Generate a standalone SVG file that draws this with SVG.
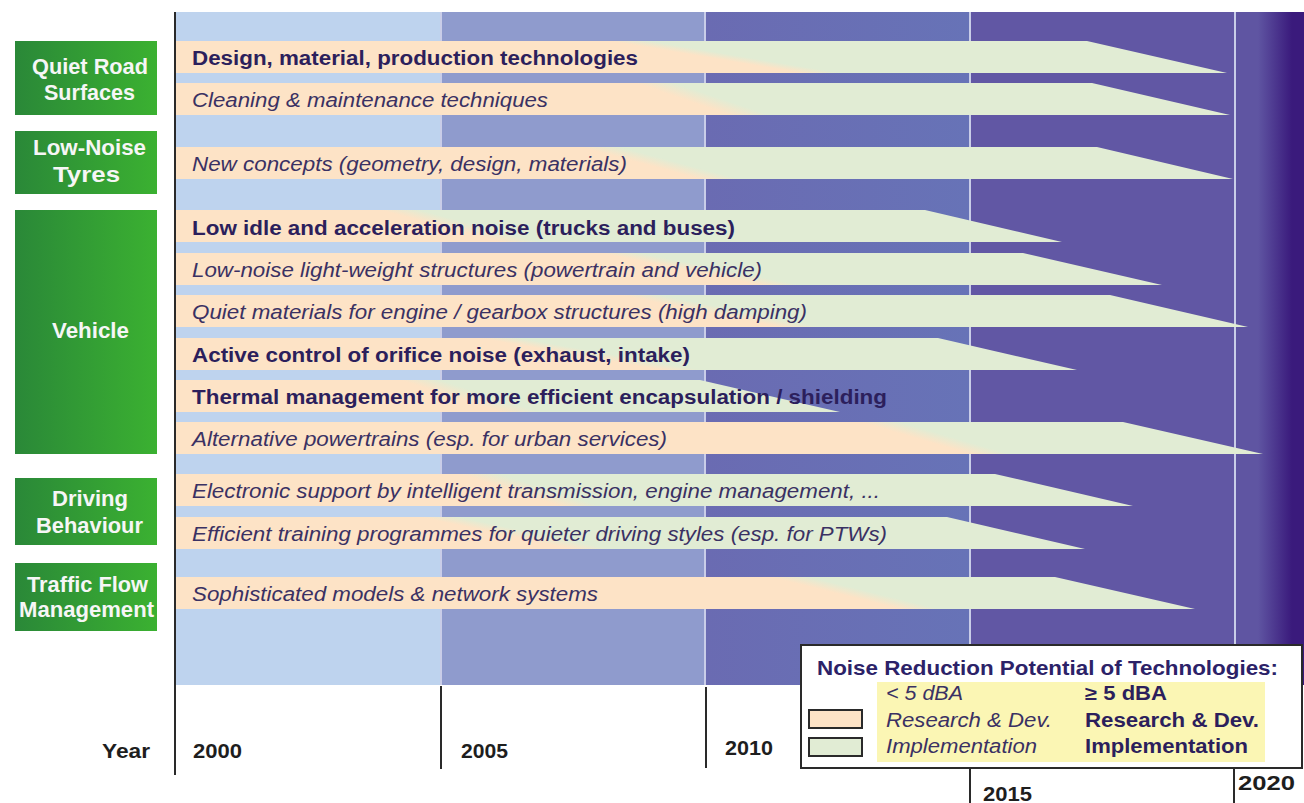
<svg xmlns="http://www.w3.org/2000/svg" width="1304" height="803" viewBox="0 0 1304 803">
  <style>
    .bold { font-family: "Liberation Sans", Arial, sans-serif; font-weight: bold; font-size: 19.5px; fill: #2c1f5c; }
    .ital { font-family: "Liberation Sans", Arial, sans-serif; font-style: italic; font-size: 19.5px; fill: #3a3163; }
    .cat { font-family: "Liberation Sans", Arial, sans-serif; font-weight: bold; font-size: 21.5px; fill: #f6f6f6; }
    .year { font-family: "Liberation Sans", Arial, sans-serif; font-weight: bold; font-size: 20px; fill: #1e1e1e; }
    .sep { stroke: #c9cde8; stroke-width: 2; }
    .axis { stroke: #2a2a2a; stroke-width: 2; fill: none; }
    .catbox { fill: url(#greenBox); }
  </style>
  <defs>
    <linearGradient id="greenBox" x1="0" y1="0" x2="1" y2="0">
      <stop offset="0" stop-color="#2a8838"/>
      <stop offset="1" stop-color="#3bb131"/>
    </linearGradient>
    <linearGradient id="col3" x1="0" y1="0" x2="1" y2="0">
      <stop offset="0" stop-color="#6a6bb2"/>
      <stop offset="1" stop-color="#6773b7"/>
    </linearGradient>
    <linearGradient id="col5" gradientUnits="userSpaceOnUse" x1="1258" y1="0" x2="1292" y2="0">
      <stop offset="0" stop-color="#5f55a2"/>
      <stop offset="1" stop-color="#3a1a7c"/>
    </linearGradient>
    <!-- peach (R&D) to pale green (implementation) blends along each bar's slanted boundary -->
    <linearGradient id="g1" gradientUnits="userSpaceOnUse" x1="724.45" y1="60.28" x2="725.55" y2="53.72"><stop offset="0" stop-color="#fde3c6"/><stop offset="1" stop-color="#e1ecd4"/></linearGradient>
    <linearGradient id="g2" gradientUnits="userSpaceOnUse" x1="700.46" y1="105.05" x2="704.54" y2="92.95"><stop offset="0" stop-color="#fde3c6"/><stop offset="1" stop-color="#e1ecd4"/></linearGradient>
    <linearGradient id="g3" gradientUnits="userSpaceOnUse" x1="658.67" y1="167.98" x2="661.33" y2="158.02"><stop offset="0" stop-color="#fde3c6"/><stop offset="1" stop-color="#e1ecd4"/></linearGradient>
    <linearGradient id="g4" gradientUnits="userSpaceOnUse" x1="458.67" y1="230.98" x2="461.33" y2="221.02"><stop offset="0" stop-color="#fde3c6"/><stop offset="1" stop-color="#e1ecd4"/></linearGradient>
    <linearGradient id="g5" gradientUnits="userSpaceOnUse" x1="699.23" y1="272.85" x2="700.77" y2="265.15"><stop offset="0" stop-color="#fde3c6"/><stop offset="1" stop-color="#e1ecd4"/></linearGradient>
    <linearGradient id="g6" gradientUnits="userSpaceOnUse" x1="719.23" y1="314.85" x2="720.77" y2="307.15"><stop offset="0" stop-color="#fde3c6"/><stop offset="1" stop-color="#e1ecd4"/></linearGradient>
    <linearGradient id="g7" gradientUnits="userSpaceOnUse" x1="589.39" y1="357.45" x2="590.61" y2="350.55"><stop offset="0" stop-color="#fde3c6"/><stop offset="1" stop-color="#e1ecd4"/></linearGradient>
    <linearGradient id="g8" gradientUnits="userSpaceOnUse" x1="468.14" y1="401.81" x2="471.86" y2="390.19"><stop offset="0" stop-color="#fde3c6"/><stop offset="1" stop-color="#e1ecd4"/></linearGradient>
    <linearGradient id="g9" gradientUnits="userSpaceOnUse" x1="933.44" y1="443.36" x2="936.56" y2="432.64"><stop offset="0" stop-color="#fde3c6"/><stop offset="1" stop-color="#e1ecd4"/></linearGradient>
    <linearGradient id="g10" gradientUnits="userSpaceOnUse" x1="528.14" y1="495.81" x2="531.86" y2="484.19"><stop offset="0" stop-color="#fde3c6"/><stop offset="1" stop-color="#e1ecd4"/></linearGradient>
    <linearGradient id="g11" gradientUnits="userSpaceOnUse" x1="514.13" y1="537.08" x2="515.87" y2="528.92"><stop offset="0" stop-color="#fde3c6"/><stop offset="1" stop-color="#e1ecd4"/></linearGradient>
    <linearGradient id="g12" gradientUnits="userSpaceOnUse" x1="853.86" y1="597.64" x2="856.14" y2="588.36"><stop offset="0" stop-color="#fde3c6"/><stop offset="1" stop-color="#e1ecd4"/></linearGradient>
  </defs>

  <rect width="1304" height="803" fill="#ffffff"/>

  <!-- time columns, 5-year steps -->
  <g id="timeline">
    <rect x="175" y="12" width="266" height="673" fill="#bed3ee"/>
    <rect x="441" y="12" width="264" height="673" fill="#8f9bcd"/>
    <rect x="705" y="12" width="265" height="673" fill="url(#col3)"/>
    <rect x="970" y="12" width="265" height="673" fill="#6157a4"/>
    <rect x="1235" y="12" width="69" height="673" fill="url(#col5)"/>
    <line class="sep" x1="441" y1="12" x2="441" y2="685"/>
    <line class="sep" x1="705" y1="12" x2="705" y2="685"/>
    <line class="sep" x1="970" y1="12" x2="970" y2="685"/>
    <line class="sep" x1="1235" y1="12" x2="1235" y2="685"/>
  </g>

  <!-- category boxes -->
  <g id="cat-road">
    <rect class="catbox" x="15" y="41" width="142" height="74"/>
    <text class="cat" x="32" y="74" textLength="116" lengthAdjust="spacingAndGlyphs">Quiet Road</text>
    <text class="cat" x="44" y="100" textLength="91" lengthAdjust="spacingAndGlyphs">Surfaces</text>
  </g>
  <g id="cat-tyres">
    <rect class="catbox" x="15" y="131" width="142" height="63"/>
    <text class="cat" x="33" y="155" textLength="113" lengthAdjust="spacingAndGlyphs">Low-Noise</text>
    <text class="cat" x="53" y="182" textLength="67" lengthAdjust="spacingAndGlyphs">Tyres</text>
  </g>
  <g id="cat-vehicle">
    <rect class="catbox" x="15" y="210" width="142" height="244"/>
    <text class="cat" x="52" y="338" textLength="77" lengthAdjust="spacingAndGlyphs">Vehicle</text>
  </g>
  <g id="cat-driving">
    <rect class="catbox" x="15" y="478" width="142" height="67"/>
    <text class="cat" x="52" y="506" textLength="76" lengthAdjust="spacingAndGlyphs">Driving</text>
    <text class="cat" x="36" y="533" textLength="107" lengthAdjust="spacingAndGlyphs">Behaviour</text>
  </g>
  <g id="cat-traffic">
    <rect class="catbox" x="15" y="563" width="142" height="68"/>
    <text class="cat" x="27" y="592" textLength="121" lengthAdjust="spacingAndGlyphs">Traffic Flow</text>
    <text class="cat" x="19" y="617" textLength="135" lengthAdjust="spacingAndGlyphs">Management</text>
  </g>

  <!-- technology bars: R&D fading into implementation, tapering to the target year -->
  <g id="bar1">
    <path d="M176,41 H1087 L1227,73 H176 Z" fill="url(#g1)"/>
    <text class="bold" x="192" y="65" textLength="446" lengthAdjust="spacingAndGlyphs">Design, material, production technologies</text>
  </g>
  <g id="bar2">
    <path d="M176,83 H1092 L1230,115 H176 Z" fill="url(#g2)"/>
    <text class="ital" x="192" y="107" textLength="356" lengthAdjust="spacingAndGlyphs">Cleaning &amp; maintenance techniques</text>
  </g>
  <g id="bar3">
    <path d="M176,147 H1097 L1233,179 H176 Z" fill="url(#g3)"/>
    <text class="ital" x="192" y="171" textLength="435" lengthAdjust="spacingAndGlyphs">New concepts (geometry, design, materials)</text>
  </g>
  <g id="bar4">
    <path d="M176,210 H925 L1062,242 H176 Z" fill="url(#g4)"/>
    <text class="bold" x="192" y="235" textLength="543" lengthAdjust="spacingAndGlyphs">Low idle and acceleration noise (trucks and buses)</text>
  </g>
  <g id="bar5">
    <path d="M176,253 H1023 L1162,285 H176 Z" fill="url(#g5)"/>
    <text class="ital" x="192" y="277" textLength="570" lengthAdjust="spacingAndGlyphs">Low-noise light-weight structures (powertrain and vehicle)</text>
  </g>
  <g id="bar6">
    <path d="M176,295 H1110 L1248,327 H176 Z" fill="url(#g6)"/>
    <text class="ital" x="192" y="319" textLength="615" lengthAdjust="spacingAndGlyphs">Quiet materials for engine / gearbox structures (high damping)</text>
  </g>
  <g id="bar7">
    <path d="M176,338 H938 L1077,370 H176 Z" fill="url(#g7)"/>
    <text class="bold" x="192" y="362" textLength="498" lengthAdjust="spacingAndGlyphs">Active control of orifice noise (exhaust, intake)</text>
  </g>
  <g id="bar8">
    <path d="M176,380 H700 L840,412 H176 Z" fill="url(#g8)"/>
    <text class="bold" x="192" y="404" textLength="695" lengthAdjust="spacingAndGlyphs">Thermal management for more efficient encapsulation / shielding</text>
  </g>
  <g id="bar9">
    <path d="M176,422 H1123 L1263,454 H176 Z" fill="url(#g9)"/>
    <text class="ital" x="192" y="446" textLength="475" lengthAdjust="spacingAndGlyphs">Alternative powertrains (esp. for urban services)</text>
  </g>
  <g id="bar10">
    <path d="M176,474 H995 L1133,506 H176 Z" fill="url(#g10)"/>
    <text class="ital" x="192" y="498" textLength="688" lengthAdjust="spacingAndGlyphs">Electronic support by intelligent transmission, engine management, ...</text>
  </g>
  <g id="bar11">
    <path d="M176,517 H947 L1085,549 H176 Z" fill="url(#g11)"/>
    <text class="ital" x="192" y="541" textLength="695" lengthAdjust="spacingAndGlyphs">Efficient training programmes for quieter driving styles (esp. for PTWs)</text>
  </g>
  <g id="bar12">
    <path d="M176,577 H1055 L1195,609 H176 Z" fill="url(#g12)"/>
    <text class="ital" x="192" y="601" textLength="406" lengthAdjust="spacingAndGlyphs">Sophisticated models &amp; network systems</text>
  </g>

  <!-- year axis -->
  <g id="axis">
    <line class="axis" x1="175" y1="12" x2="175" y2="775"/>
    <line class="axis" x1="441" y1="686" x2="441" y2="769"/>
    <line class="axis" x1="706" y1="687" x2="706" y2="768"/>
    <line class="axis" x1="970" y1="768" x2="970" y2="803"/>
    <line class="axis" x1="1234" y1="768" x2="1234" y2="803"/>
    <text class="year" x="102" y="758" textLength="48" lengthAdjust="spacingAndGlyphs">Year</text>
    <text class="year" x="193" y="758" textLength="49" lengthAdjust="spacingAndGlyphs">2000</text>
    <text class="year" x="461" y="758" textLength="47" lengthAdjust="spacingAndGlyphs">2005</text>
    <text class="year" x="725" y="755" textLength="48" lengthAdjust="spacingAndGlyphs">2010</text>
    <text class="year" x="983" y="801" textLength="49" lengthAdjust="spacingAndGlyphs">2015</text>
    <text class="year" x="1238" y="790" textLength="57" lengthAdjust="spacingAndGlyphs">2020</text>
  </g>

  <!-- legend -->
  <g id="legend">
    <rect x="801" y="645" width="501" height="123" fill="#ffffff" stroke="#2a2a2a" stroke-width="2"/>
    <text x="817" y="675" textLength="461" lengthAdjust="spacingAndGlyphs" style="font-family:'Liberation Sans',Arial,sans-serif;font-weight:bold;font-size:20.5px;fill:#2c2268">Noise Reduction Potential of Technologies:</text>
    <rect x="877" y="682" width="388" height="80" fill="#fbf6b4"/>
    <rect x="809" y="710" width="53" height="18" fill="#fde3c6" stroke="#2a2a2a" stroke-width="2"/>
    <rect x="809" y="738" width="53" height="18" fill="#e1ecd4" stroke="#2a2a2a" stroke-width="2"/>
    <text class="ital" x="886" y="700" textLength="77" lengthAdjust="spacingAndGlyphs">&lt; 5 dBA</text>
    <text class="bold" x="1085" y="700" textLength="82" lengthAdjust="spacingAndGlyphs">≥ 5 dBA</text>
    <text class="ital" x="886" y="727" textLength="166" lengthAdjust="spacingAndGlyphs">Research &amp; Dev.</text>
    <text class="bold" x="1085" y="727" textLength="174" lengthAdjust="spacingAndGlyphs">Research &amp; Dev.</text>
    <text class="ital" x="886" y="753" textLength="151" lengthAdjust="spacingAndGlyphs">Implementation</text>
    <text class="bold" x="1085" y="753" textLength="163" lengthAdjust="spacingAndGlyphs">Implementation</text>
  </g>
</svg>
